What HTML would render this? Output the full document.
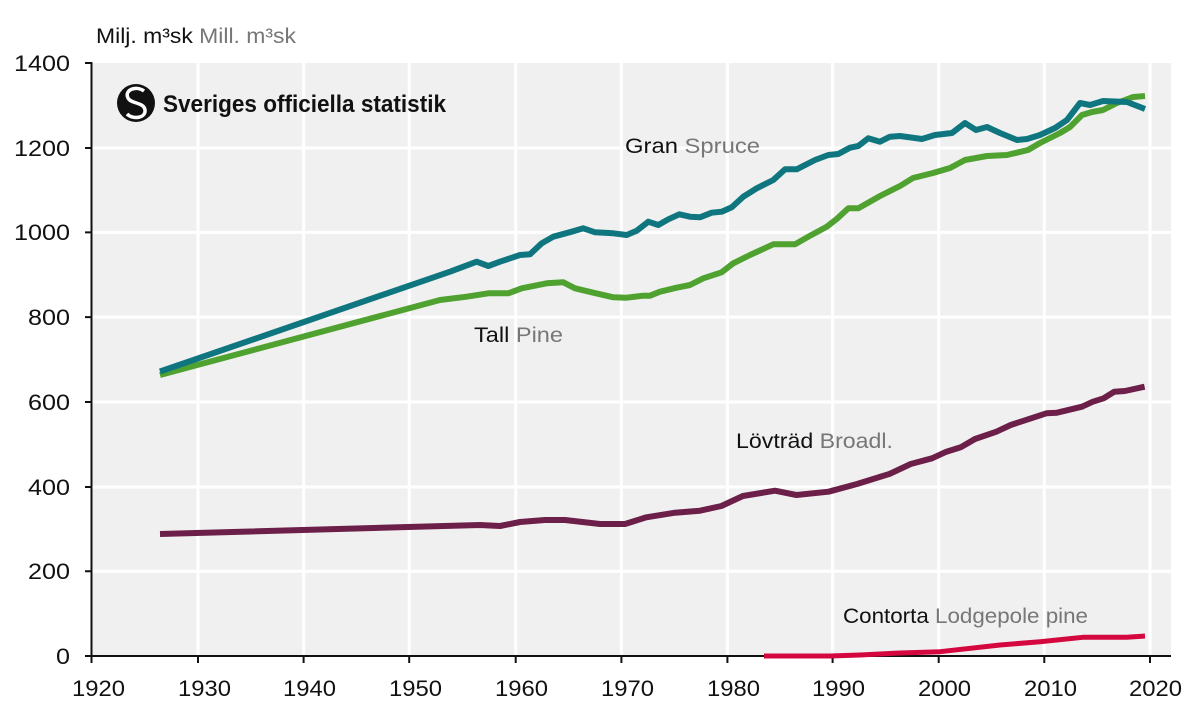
<!DOCTYPE html>
<html><head><meta charset="utf-8"><style>
body{margin:0;background:#fff;}
svg{display:block;font-family:"Liberation Sans",sans-serif;}
</style></head><body>
<svg width="1200" height="717" viewBox="0 0 1200 717" xmlns="http://www.w3.org/2000/svg">
<rect x="92" y="63" width="1079" height="593" fill="#f0f0f0"/>
<g stroke="#fff" stroke-width="3">
<line x1="198" y1="63" x2="198" y2="656"/><line x1="303.6" y1="63" x2="303.6" y2="656"/><line x1="409.2" y1="63" x2="409.2" y2="656"/><line x1="515.7" y1="63" x2="515.7" y2="656"/><line x1="621.4" y1="63" x2="621.4" y2="656"/><line x1="727.4" y1="63" x2="727.4" y2="656"/><line x1="832.6" y1="63" x2="832.6" y2="656"/><line x1="938.7" y1="63" x2="938.7" y2="656"/><line x1="1044.3" y1="63" x2="1044.3" y2="656"/><line x1="1150" y1="63" x2="1150" y2="656"/>
<line x1="92" y1="148" x2="1171" y2="148"/><line x1="92" y1="232.4" x2="1171" y2="232.4"/><line x1="92" y1="317.1" x2="1171" y2="317.1"/><line x1="92" y1="402" x2="1171" y2="402"/><line x1="92" y1="487" x2="1171" y2="487"/><line x1="92" y1="571.3" x2="1171" y2="571.3"/>
</g>
<g stroke="#111" stroke-width="2" fill="none">
<path d="M85 63H91.5V656H1171"/>
<path d="M85 148H91.5M85 232.4H91.5M85 317.1H91.5M85 402H91.5M85 487H91.5M85 571.3H91.5M85 656H91.5"/>
<path d="M91.5 656V663M198 656V663M303.6 656V663M409.2 656V663M515.7 656V663M621.4 656V663M727.4 656V663M832.6 656V663M938.7 656V663M1044.3 656V663M1150 656V663"/>
</g>
<g font-size="22" fill="#111">
<text x="14" y="71" textLength="56" lengthAdjust="spacingAndGlyphs">1400</text><text x="14" y="156" textLength="56" lengthAdjust="spacingAndGlyphs">1200</text><text x="14" y="240" textLength="56" lengthAdjust="spacingAndGlyphs">1000</text><text x="28" y="325" textLength="42" lengthAdjust="spacingAndGlyphs">800</text><text x="28" y="410" textLength="42" lengthAdjust="spacingAndGlyphs">600</text><text x="28" y="495" textLength="42" lengthAdjust="spacingAndGlyphs">400</text><text x="28" y="579" textLength="42" lengthAdjust="spacingAndGlyphs">200</text><text x="56" y="664" textLength="14" lengthAdjust="spacingAndGlyphs">0</text>
</g>
<g font-size="22" fill="#111">
<text x="72" y="696" textLength="53" lengthAdjust="spacingAndGlyphs">1920</text><text x="178" y="696" textLength="53" lengthAdjust="spacingAndGlyphs">1930</text><text x="283" y="696" textLength="53" lengthAdjust="spacingAndGlyphs">1940</text><text x="389" y="696" textLength="53" lengthAdjust="spacingAndGlyphs">1950</text><text x="495" y="696" textLength="53" lengthAdjust="spacingAndGlyphs">1960</text><text x="601" y="696" textLength="53" lengthAdjust="spacingAndGlyphs">1970</text><text x="707" y="696" textLength="53" lengthAdjust="spacingAndGlyphs">1980</text><text x="812" y="696" textLength="53" lengthAdjust="spacingAndGlyphs">1990</text><text x="918" y="696" textLength="53" lengthAdjust="spacingAndGlyphs">2000</text><text x="1024" y="696" textLength="53" lengthAdjust="spacingAndGlyphs">2010</text><text x="1129" y="696" textLength="53" lengthAdjust="spacingAndGlyphs">2020</text>
</g>
<text x="96" y="43" font-size="21" fill="#111" textLength="200" lengthAdjust="spacingAndGlyphs">Milj. m³sk <tspan fill="#777">Mill. m³sk</tspan></text>
<circle cx="136" cy="103" r="19" fill="#111"/>
<path d="M144 91C136 85 124 90 128 98C131 104 144 102 145 110C146 118 133 120 127 114" stroke="#fff" stroke-width="3.5" fill="none"/>
<text x="163" y="112" font-size="24" font-weight="bold" fill="#111" textLength="283" lengthAdjust="spacingAndGlyphs">Sveriges officiella statistik</text>
<g fill="none" stroke-linejoin="round" stroke-linecap="butt" stroke-width="6">
<polyline stroke="#4fa22f" points="160,375 440,300 466.7,296.7 488.3,293.3 508.3,293.3 521.7,288.3 546.7,283.3 563.3,282.3 575,288.3 593.3,292.7 613.3,297.3 626.7,297.7 643.3,295.7 650,295.7 660,291.7 676.7,287.7 690,285 703.3,278.3 721.7,272.3 733.3,263.3 750,255 773.3,244.3 795,244.3 808.3,236.7 826.7,226.7 836.7,219 848.3,208.3 858.3,208.3 880,196 900,186 913,178 933,173 950,168 965,160 987,156 1007,155 1028,150 1040,143 1060,133 1070,127 1082,115 1092,112 1103,110 1117,103 1133,97 1145,96"/>
<polyline stroke="#0f7680" points="160,371.5 450,271.7 476.7,261.7 488.3,266 500,261.7 520,255 530,254.3 541.7,243.3 553.3,236.7 571.7,231.7 583.3,228.3 595,232.3 613.3,233.3 626.7,235 636.7,230.7 648.3,221.7 658.3,225 668.3,219.3 679.3,214.3 690,216.7 700,217.3 711.7,212.7 721.7,211.7 731.7,207.3 743.3,196.7 756.7,188.3 773.3,180 785,169.3 796.7,169.3 815,160 828.3,155 838.3,154 850,147.7 858.3,146 868.3,138.3 880,141.7 890,136.7 900,136 922,139 935,135 952,133 965,123 976,130 987,127 1000,133 1017,140 1027,139 1040,135 1055,128 1067,120 1080,103 1090,105 1103,101 1127,102 1145,109"/>
<polyline stroke="#6b1f49" points="160,534 480,525 500,526 520,522 545,520 565,520 600,524 625,524 646.4,517.3 675,512.7 700,510.7 721.4,506 742.9,496 775,490.7 796.4,495 828.6,491.7 857,484 889.3,474 910.7,464 932,458.3 946.4,451.7 960.7,447.3 975,439 996.4,431.7 1010.7,425 1046.4,413.3 1057,412.7 1082,406.7 1092.9,401.7 1103.6,398.3 1114.3,391.7 1125,391 1144.6,386.7"/>
<polyline stroke="#d4083f" stroke-width="5" points="764,656 830,656 860,655 900,653 940,651.7 1000,645 1040,641.7 1083,637.3 1126.7,637.3 1145,636"/>
</g>
<g font-size="21" fill="#111">
<text x="625" y="153" textLength="135" lengthAdjust="spacingAndGlyphs">Gran <tspan fill="#777">Spruce</tspan></text>
<text x="474" y="342" textLength="89" lengthAdjust="spacingAndGlyphs">Tall <tspan fill="#777">Pine</tspan></text>
<text x="736" y="448" textLength="157" lengthAdjust="spacingAndGlyphs">Lövträd <tspan fill="#777">Broadl.</tspan></text>
<text x="843" y="623" textLength="245" lengthAdjust="spacingAndGlyphs">Contorta <tspan fill="#777">Lodgepole pine</tspan></text>
</g>
</svg>
</body></html>
